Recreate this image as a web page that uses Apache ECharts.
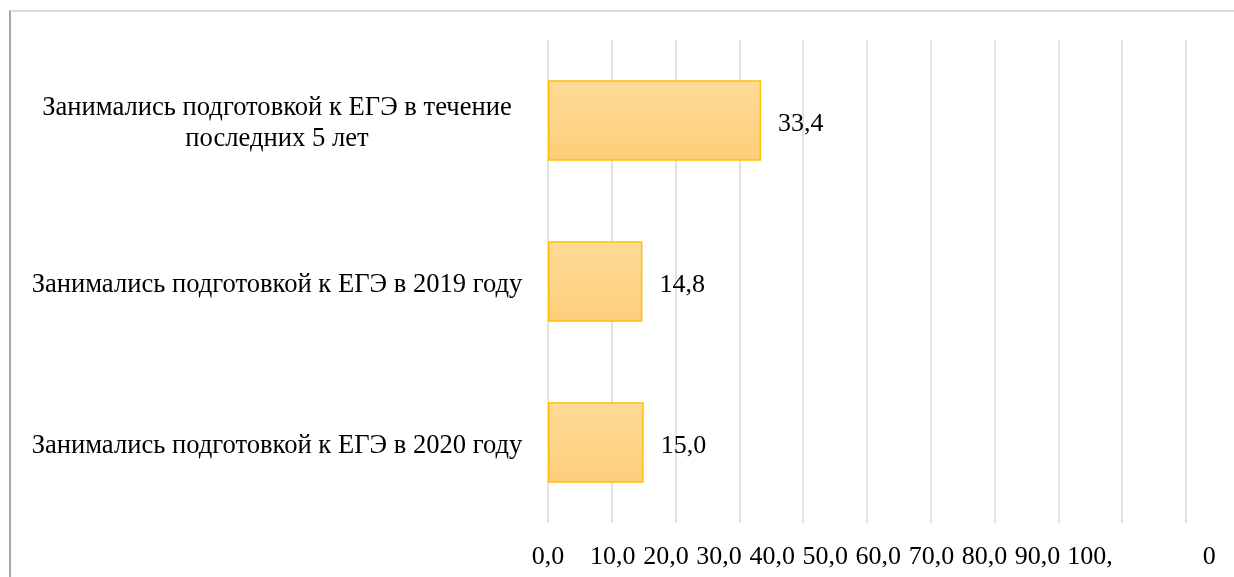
<!DOCTYPE html>
<html>
<head>
<meta charset="utf-8">
<script src="https://cdn.jsdelivr.net/npm/echarts@6/dist/echarts.min.js"></script>
<style>
  html, body { margin: 0; padding: 0; background: #fff; }
  #frame { position: absolute; left: 9px; top: 10px; width: 1300px; height: 600px;
           border-left: 2px solid #a6a6a6; border-top: 2px solid #d9d9d9; }
  #chart { position: absolute; left: 0; top: 0; width: 1234px; height: 577px; }
</style>
</head>
<body>
<div id="frame"></div>
<div id="chart"></div>
<script>
// ---- data ----
const categories = [
  "Занимались подготовкой к ЕГЭ в течение\nпоследних 5 лет",
  "Занимались подготовкой к ЕГЭ в 2019 году",
  "Занимались подготовкой к ЕГЭ в 2020 году"
];
const values = [33.4, 14.8, 15.0];
const xTickLabels = ["0,0","10,0","20,0","30,0","40,0","50,0","60,0","70,0","80,0","90,0","100,0"];

// ---- styling (label placement quirks of the original) ----
const labelShift = [0, 1, -9.7, -20.4, -31, -41.8, -52.5, -63, -74, -84.6, -95];
const FONT = '"Liberation Serif", "Times New Roman", serif';

const rich = {};
labelShift.forEach((s, i) => {
  rich['s' + i] = { fontFamily: FONT, fontSize: 26, color: '#000',
    padding: s < 0 ? [0, -2 * s, 0, 0] : [0, 0, 0, 2 * s] };
});
rich.tail = { fontFamily: FONT, fontSize: 26, color: '#000', padding: [0, 89, 0, 90] };
rich.head = { fontFamily: FONT, fontSize: 26, color: '#000' };

const chart = echarts.init(document.getElementById('chart'));
chart.setOption({
  backgroundColor: 'transparent',
  animation: false,
  grid: { left: 548, right: 48, top: 40, bottom: 54, containLabel: false },
  xAxis: {
    type: 'value', min: 0, max: 100, interval: 10,
    axisLine: { show: false }, axisTick: { show: false },
    splitLine: { show: true, lineStyle: { color: '#d9d9d9', width: 1.5 } },
    axisLabel: {
      margin: 21,
      formatter: function (v) {
        const i = Math.round(v / 10);
        const t = xTickLabels[i];
        if (i === xTickLabels.length - 1) {
          return '{head|' + t.slice(0, -1) + '}{tail|' + t.slice(-1) + '}';
        }
        return '{s' + i + '|' + t + '}';
      },
      rich: rich
    }
  },
  yAxis: {
    type: 'category', data: categories, inverse: true,
    axisLine: { show: false }, axisTick: { show: false },
    axisLabel: {
      align: 'center', margin: 271, color: '#000',
      formatter: v => v.split('\n').map(l => '{c|' + l + '}').join('\n') + '\n{sp|}',
      rich: {
        c: { fontFamily: FONT, fontSize: 26.6, color: '#000', lineHeight: 31, align: 'center' },
        sp: { fontSize: 1, lineHeight: 0.1, height: 0.1, padding: [0, 0, 0, 0] }
      },
      padding: [7, 0, 0, 0]
    }
  },
  series: [{
    type: 'bar', data: values, barWidth: '50%',
    itemStyle: {
      color: new echarts.graphic.LinearGradient(0, 0, 0, 1, [
        { offset: 0, color: '#fedb98' }, { offset: 1, color: '#fdce7a' }
      ]),
      borderColor: '#ffc000', borderWidth: 1.5
    },
    label: {
      show: true, position: 'right', distance: 17, offset: [0, 4],
      fontFamily: FONT, fontSize: 26, color: '#000',
      formatter: p => p.value.toFixed(1).replace('.', ',')
    }
  }]
});
</script>
</body>
</html>
